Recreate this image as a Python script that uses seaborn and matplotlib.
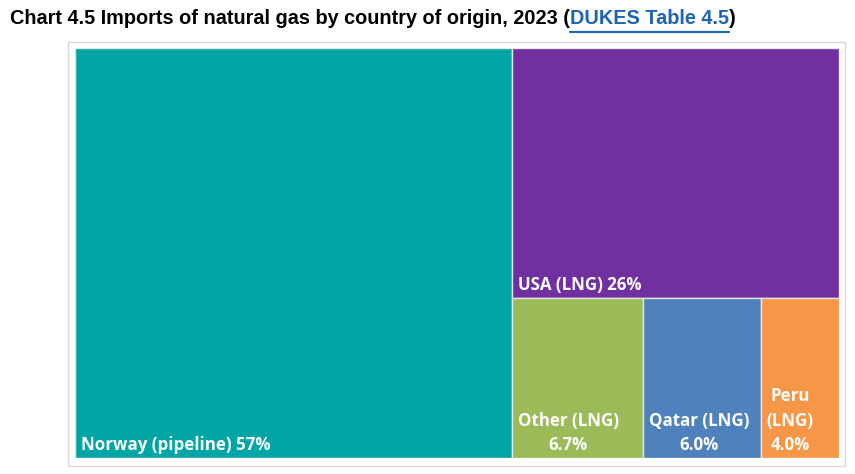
# plot.py
# Treemap of UK natural gas imports by country of origin (2023).
# seaborn has no treemap, so tiles are laid out with a small slice-and-dice
# routine and drawn as rectangles on a seaborn-styled axis.

import matplotlib
matplotlib.use("Agg")
import matplotlib.pyplot as plt
import matplotlib.patches as mpatches
from matplotlib.lines import Line2D
import seaborn as sns

# -----------------------------------------------------------------------------
# Data
# -----------------------------------------------------------------------------
origins = ["Norway (pipeline)", "USA (LNG)", "Other (LNG)", "Qatar (LNG)", "Peru (LNG)"]
shares = [57, 26, 6.7, 6.0, 4.0]
share_labels = ["57%", "26%", "6.7%", "6.0%", "4.0%"]
colours = ["#00A5A6", "#7030A0", "#9BBB59", "#4F81BD", "#F79646"]

title_main = "Chart 4.5 Imports of natural gas by country of origin, 2023 ("
title_link = "DUKES Table 4.5"
title_end = ")"


def slice_and_dice(values, x, y, w, h):
    # Take the first value off along the longer side, recurse on the rest.
    if not values:
        return []
    if len(values) == 1:
        return [(x, y, w, h)]
    frac = values[0] / sum(values)
    if w >= h:
        first = (x, y, w * frac, h)
        rest = slice_and_dice(values[1:], x + w * frac, y, w * (1 - frac), h)
    else:
        # top first (y axis is inverted below)
        first = (x, y, w, h * frac)
        rest = slice_and_dice(values[1:], x, y + h * frac, w, h * (1 - frac))
    return [first] + rest


sns.set_theme(style="white")
plt.rcParams["font.family"] = ["Open Sans", "DejaVu Sans"]

fig = plt.figure(figsize=(8.55, 4.74), dpi=100)
W_PX, H_PX = 855, 474

# light outer frame
frame = mpatches.Rectangle((68 / W_PX, 1 - 466 / H_PX), 777 / W_PX, 424 / H_PX,
                           transform=fig.transFigure, fill=False,
                           edgecolor="#d9d9d9", linewidth=1.0)
fig.patches.append(frame)

ax = fig.add_axes([75 / W_PX, 1 - 458 / H_PX, 764 / W_PX, 410 / H_PX])
AW, AH = 764.0, 410.0
ax.set_xlim(0, AW)
ax.set_ylim(AH, 0)
ax.axis("off")

rects = slice_and_dice(shares, 0, 0, AW, AH)

fig.canvas.draw()
renderer = fig.canvas.get_renderer()

for (x, y, w, h), name, pct, col in zip(rects, origins, share_labels, colours):
    ax.add_patch(mpatches.Rectangle((x, y), w, h, facecolor=col,
                                    edgecolor="#e6e6e6", linewidth=1.0))
    # try one line, else break between name and share, else break words too
    candidates = [f"{name} {pct}", f"{name}\n{pct}",
                  "\n".join(name.split(" ")) + "\n" + pct]
    for lab in candidates:
        t = ax.text(x + 6, y + h - 4, lab, color="white", fontsize=12.2,
                    fontweight="bold", ha="left", va="bottom",
                    multialignment="center", linespacing=1.45)
        bb = t.get_window_extent(renderer=renderer)
        if bb.width <= w - 10 or lab == candidates[-1]:
            break
        t.remove()

# title with blue underlined link part
tf = dict(fontsize=14.3, fontweight="bold", family=["Liberation Sans", "DejaVu Sans"])
t1 = fig.text(10 / W_PX, 1 - 19 / H_PX, title_main, color="black", va="center", **tf)
t2 = fig.text(0, 0, title_link, color="#1F63B4", va="center", **tf)
t3 = fig.text(0, 0, title_end, color="black", va="center", **tf)
fig.canvas.draw()
b1 = t1.get_window_extent(renderer=renderer)
t2.set_position((b1.x1 / W_PX, t1.get_position()[1]))
fig.canvas.draw()
b2 = t2.get_window_extent(renderer=renderer)
t3.set_position((b2.x1 / W_PX, t1.get_position()[1]))
fig.lines.append(Line2D([b2.x0 / W_PX, b2.x1 / W_PX],
                        [(b2.y0 - 3) / H_PX, (b2.y0 - 3) / H_PX],
                        transform=fig.transFigure, color="#1F63B4", linewidth=1.5))

fig.savefig("out.png", dpi=100)
